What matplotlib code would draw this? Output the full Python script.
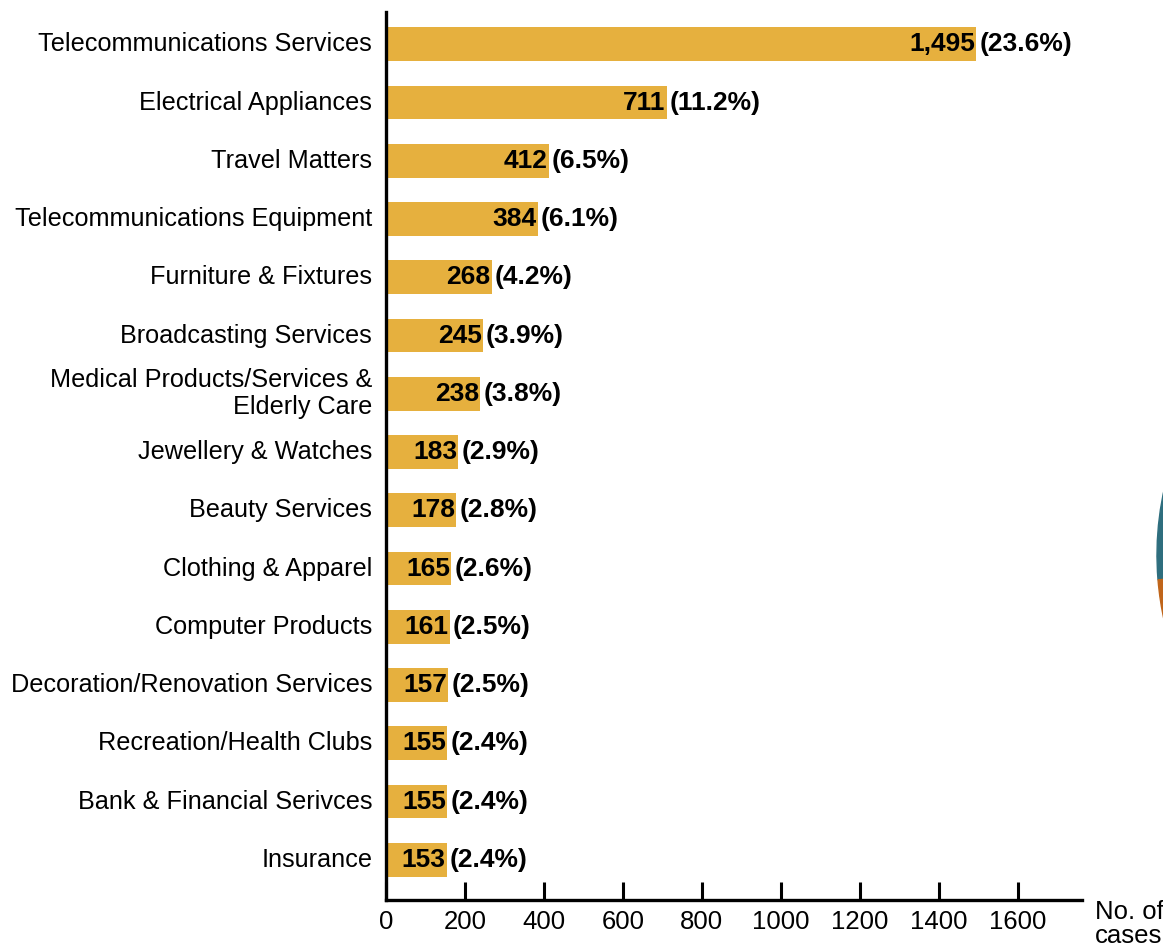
import matplotlib
matplotlib.use("Agg")
import matplotlib.pyplot as plt
from matplotlib.patches import Wedge

plt.rcParams['font.family'] = ['Liberation Sans', 'DejaVu Sans']

categories = [
    'Telecommunications Services',
    'Electrical Appliances',
    'Travel Matters',
    'Telecommunications Equipment',
    'Furniture & Fixtures',
    'Broadcasting Services',
    'Medical Products/Services &\nElderly Care',
    'Jewellery & Watches',
    'Beauty Services',
    'Clothing & Apparel',
    'Computer Products',
    'Decoration/Renovation Services',
    'Recreation/Health Clubs',
    'Bank & Financial Serivces',
    'Insurance',
]
cases = [1495, 711, 412, 384, 268, 245, 238, 183, 178, 165, 161, 157, 155, 155, 153]
shares = [23.6, 11.2, 6.5, 6.1, 4.2, 3.9, 3.8, 2.9, 2.8, 2.6, 2.5, 2.5, 2.4, 2.4, 2.4]
x_ticks = [0, 200, 400, 600, 800, 1000, 1200, 1400, 1600]

bar_color = '#E6B03E'

fig = plt.figure(figsize=(11.63, 9.47), dpi=100)
ax = fig.add_axes([0.332, 0.0496, 0.598, 0.9374])

pos = list(range(len(categories)))
ax.barh(pos, cases, height=0.58, color=bar_color)

for y, n, s in zip(pos, cases, shares):
    ax.text(n - 3, y, f'{n:,}', ha='right', va='center',
            fontsize=19, fontweight='bold', color='black')
    ax.text(n + 8, y, f'({s}%)', ha='left', va='center',
            fontsize=19, fontweight='bold', color='black')

ax.set_ylim(len(categories) - 1 + 0.69, -0.55)
ax.set_xlim(0, 1762)
ax.set_yticks(pos)
ax.set_yticklabels(categories, fontsize=18.2, ha='right', linespacing=1.15,
                   va='center')
ax.tick_params(axis='y', length=0, pad=10)
ax.set_xticks(x_ticks)
ax.tick_params(axis='x', direction='in', length=13, width=2.2, labelsize=18.5, pad=7)

for side in ['top', 'right']:
    ax.spines[side].set_visible(False)
for side in ['left', 'bottom']:
    ax.spines[side].set_linewidth(2.4)

fig.text(1095 / 1163, 1 - 924 / 947, 'No. of\ncases', fontsize=18.5,
         ha='left', va='center', linespacing=1.05)

# edge of the neighbouring pie chart, cut off by the figure border
centre = (14.60, 3.92)
fig.patches.append(Wedge(centre, 3.03, 90, 184.7, color='#2E6E7E',
                         transform=fig.dpi_scale_trans))
fig.patches.append(Wedge(centre, 3.03, 184.7, 250, color='#C0651A',
                         transform=fig.dpi_scale_trans))

fig.savefig('out.png', dpi=100)
